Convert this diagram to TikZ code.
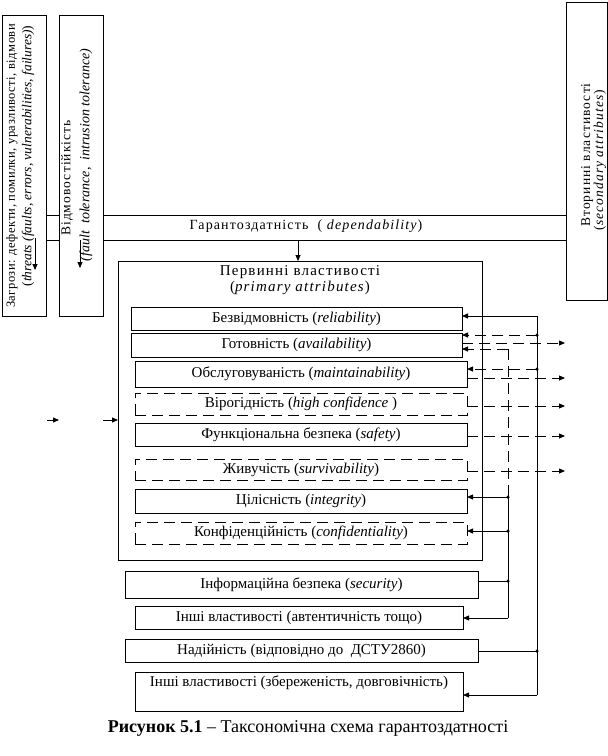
\documentclass[tikz,border=0pt]{standalone}
\usepackage{fontspec}
\setmainfont{Liberation Serif}
\newfontfamily\spc[LetterSpace=8]{Liberation Serif}
\newfontfamily\spcs[LetterSpace=4]{Liberation Serif}
\usetikzlibrary{arrows.meta}
\begin{document}
\begin{tikzpicture}[x=1pt,y=-1pt,
  box/.style={draw, line width=0.8pt, inner sep=0pt, outer sep=0pt, font=\fontsize{15}{17}\selectfont},
  dbox/.style={box, dash pattern=on 11pt off 6pt},
  arr/.style={-{Triangle[length=6pt,width=5pt]}, line width=0.8pt},
  ln/.style={line width=0.8pt},
  dsh/.style={line width=0.8pt, dash pattern=on 11pt off 6pt},
  dot/.style={circle, fill, inner sep=0pt, minimum size=3.5pt},
  rt/.style={rotate=90, inner sep=0pt, font=\fontsize{12.5}{14}\selectfont},
  lbl/.style={inner sep=0pt, font=\fontsize{14}{16}\selectfont}]
\useasboundingbox (0,0) rectangle (608,756);

% left vertical boxes
\node[box, minimum width=44pt, minimum height=301pt] (thr) at (24,165.5) {};
\node[box, minimum width=44pt, minimum height=301pt] (ft) at (81,165.5) {};
\node[box, minimum width=41pt, minimum height=298pt] (sec) at (586.5,151) {};

\node[rt] (thrA) at (12,166) {\spcs Загрози: дефекти, помилки, уразливості, відмови};
\node[rt, font=\fontsize{13.5}{15}\selectfont] (thrB) at (28,156) {(\textit{threats (faults, errors, vulnerabilities, failures)})};
\node[rt, font=\fontsize{13.5}{15}\selectfont] (ftA) at (67,178) {\spc Відмовостійкість};
\node[rt, font=\fontsize{14}{15}\selectfont] (ftB) at (86,155) {\itshape (fault \ tolerance, \ intrusion tolerance)};
\node[rt, font=\fontsize{13.5}{15}\selectfont] (secA) at (587,155) {\spc Вторинні властивості};
\node[rt, font=\fontsize{13.5}{15}\selectfont] (secB) at (600,160) {\spc(\textit{secondary attributes})};

% arrows inside left boxes
\coordinate (a1s) at (35,238); \coordinate (a1e) at (35,270);
\draw[arr] (a1s) -- (a1e);
\coordinate (a2s) at (80,240); \coordinate (a2e) at (80,268);
\draw[arr] (a2s) -- (a2e);

% dependability band
\draw[ln] (thr.east |- 0,215) -- (ft.west |- 0,215);
\draw[ln] (thr.east |- 0,240) -- (ft.west |- 0,240);
\draw[ln] (ft.east |- 0,215) -- (sec.west |- 0,215);
\draw[ln] (ft.east |- 0,240) -- (sec.west |- 0,240);
\node[lbl] (dep) at (306,226) {\spc Гарантоздатність \ ( \textit{dependability})};

% primary box
\node[box, minimum width=364pt, minimum height=299pt] (prim) at (300,410.5) {};
\coordinate (g) at (298,240);
\draw[arr] (g) -- (g |- prim.north);
\node[lbl, font=\fontsize{15}{16}\selectfont] (primA) at (300,272) {\spc Первинні властивості};
\node[lbl, font=\fontsize{15}{16}\selectfont] (primB) at (300,288) {\spc(\textit{primary attributes})};

% inner boxes
\node[box, minimum width=331pt, minimum height=23pt] (rel) at (296.5,318.5) {Безвідмовність (\textit{reliability})};
\node[box, minimum width=331pt, minimum height=24pt] (av) at (296.5,345) {Готовність (\textit{availability})};
\node[box, minimum width=332pt, minimum height=26pt] (mnt) at (301,374) {Обслуговуваність (\textit{maintainability})};
\node[dbox, minimum width=332pt, minimum height=22pt] (hc) at (301,404) {Вірогідність (\textit{high confidence} )};
\node[box, minimum width=332pt, minimum height=23pt] (saf) at (301,434.5) {Функціональна безпека (\textit{safety})};
\node[dbox, minimum width=332pt, minimum height=21pt] (surv) at (301,469.5) {Живучість (\textit{survivability})};
\node[box, minimum width=332pt, minimum height=24pt] (integ) at (301,501) {Цілісність (\textit{integrity})};
\node[dbox, minimum width=332pt, minimum height=22pt] (conf) at (301,533) {Конфіденційність (\textit{confidentiality})};

% outer boxes
\node[box, minimum width=353pt, minimum height=27pt] (secu) at (301.5,584.5) {Інформаційна безпека (\textit{security})};
\node[box, minimum width=328pt, minimum height=23pt] (oth1) at (299,617.5) {Інші властивості (автентичність тощо)};
\node[box, minimum width=353pt, minimum height=23pt] (nad) at (301.5,650.5) {Надійність (відповідно до \ ДСТУ2860)};
\node[box, minimum width=328pt, minimum height=39pt] (oth2) at (299,691.5) {};
\node[inner sep=0pt, font=\fontsize{15}{17}\selectfont] (oth2t) at (299,683) {Інші властивості (збереженість, довговічність)};

% small left arrows
\coordinate (la1) at (47,420); \coordinate (la2) at (59,420);
\draw[arr] (la1) -- (la2);
\coordinate (la3) at (103,420);
\draw[arr] (la3) -- (la3 -| prim.west);

% bus coordinates
\coordinate (B1) at (537,316);
\coordinate (B2) at (537,335);
\coordinate (B3) at (537,369);
\coordinate (B4) at (537,651);
\coordinate (B5) at (537,695);
\coordinate (C1) at (508,349);
\coordinate (C2) at (508,497);
\coordinate (C3) at (508,531);
\coordinate (C4) at (508,581);
\coordinate (C5) at (508,618);

\draw[ln] (B1) -- (B5);
\draw[dsh] (C1) -- (C2);
\draw[ln] (C2) -- (C5);

\draw[arr] (B1) -- (B1 -| rel.east);
\draw[arr, dsh] (B2) -- (B2 -| av.east);
\draw[arr, dsh] (C1) -- (C1 -| av.east);
\draw[arr, dsh] (B3) -- (B3 -| mnt.east);
\draw[arr] (C2) -- (C2 -| integ.east);
\draw[arr] (C3) -- (C3 -| conf.east);
\draw[ln] (C4 -| secu.east) -- (C4);
\draw[arr] (C5) -- (C5 -| oth1.east);
\draw[ln] (B4 -| nad.east) -- (B4);
\draw[arr] (B5) -- (B5 -| oth2.east);

\node[dot] (d1) at (B2) {};
\node[dot] (d2) at (B3) {};
\node[dot] (d3) at (B4) {};
\node[dot] (d4) at (C2) {};
\node[dot] (d5) at (C3) {};
\node[dot] (d6) at (C4) {};

% outgoing dashed arrows
\coordinate (R) at (565,0);
\draw[arr, dsh] (av.east |- 0,343) -- (R |- 0,343);
\draw[arr, dsh] (mnt.east |- 0,378) -- (R |- 0,378);
\draw[arr, dsh] (hc.east |- 0,406) -- (R |- 0,406);
\draw[arr, dsh] (saf.east |- 0,436) -- (R |- 0,436);
\draw[arr, dsh] (surv.east |- 0,471) -- (R |- 0,471);

% caption
\node[inner sep=0pt, font=\fontsize{18}{20}\selectfont] (cap) at (308,728) {\textbf{Рисунок 5.1} – Таксономічна схема гарантоздатності};
\end{tikzpicture}
\end{document}
